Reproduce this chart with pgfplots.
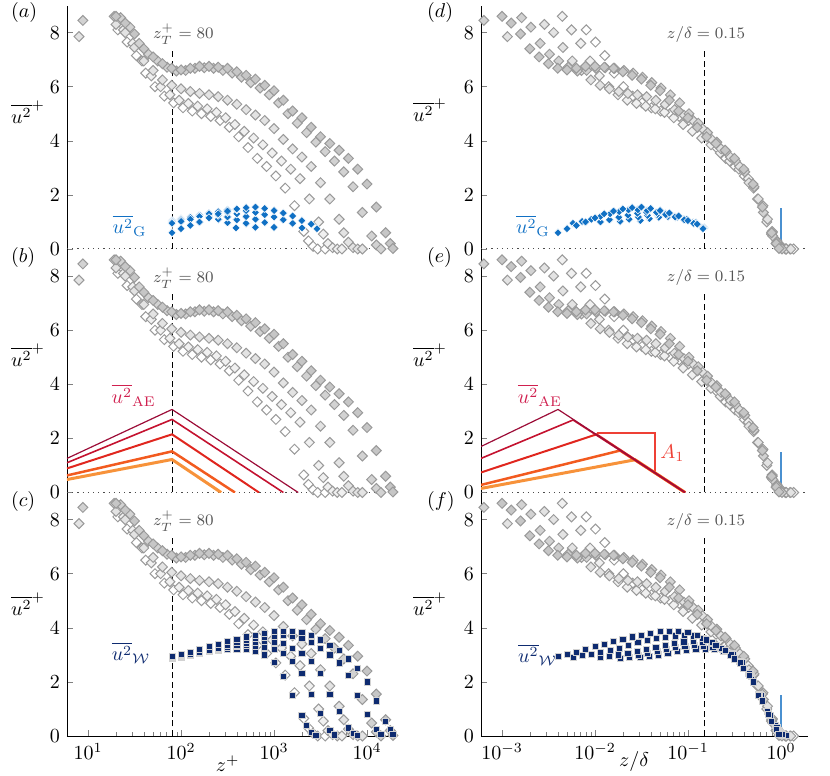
\documentclass[border=0pt]{standalone}
\usepackage{pgfplots}
\usepackage{pgfplotstable}
\pgfplotsset{compat=1.18}
\definecolor{edg}{HTML}{9A9A9A}
\definecolor{fa}{HTML}{C6C6C6}
\definecolor{fb}{HTML}{D2D2D2}
\definecolor{fc}{HTML}{E3E3E3}
\definecolor{fd}{HTML}{F0F0F0}
\definecolor{fe}{HTML}{FFFFFF}
\definecolor{gblue}{HTML}{1070C4}
\definecolor{wnavy}{HTML}{0E2B70}
\definecolor{aea}{HTML}{9C0D38}
\definecolor{aeb}{HTML}{C4122F}
\definecolor{aec}{HTML}{E0261E}
\definecolor{aed}{HTML}{F25A1F}
\definecolor{aee}{HTML}{F7923A}
\definecolor{aelab}{HTML}{D0204F}
\definecolor{aone}{HTML}{EE4035}
\definecolor{vblue}{HTML}{4A90D0}
\definecolor{txtgray}{HTML}{555555}

\pgfplotstableread{
z v
20.0 8.6
25.1 8.35
31.6 7.95
39.8 7.4
50.1 7.1
63.1 6.85
79.4 6.68
100 6.62
126 6.68
158 6.75
200 6.75
251 6.72
316 6.68
398 6.55
501 6.42
631 6.28
794 6.05
1000 5.85
1259 5.5
1585 5.1
1995 4.85
2512 4.5
3162 4.15
3981 3.9
5012 3.65
6310 3.35
7943 2.95
10000 2.4
12589 1.55
15849 0.6
17783 0.2
19000 0.02
}\Pone
\pgfplotstableread{
z v
8.8 8.45
22.4 8.55
28.2 8.2
35.5 7.6
44.7 7.2
56.2 6.95
70.8 6.72
89.1 6.58
112 6.6
141 6.68
178 6.7
224 6.68
282 6.6
355 6.5
447 6.35
562 6.15
708 5.95
891 5.7
1122 5.4
1413 5.0
1778 4.65
2239 4.3
2818 3.95
3548 3.6
4467 3.25
5623 2.85
7079 2.3
8913 1.35
11220 0.48
12589 0.15
14125 0.0
}\Ptwo
\pgfplotstableread{
z v
8.0 7.85
20.0 8.3
25.1 8.0
31.6 7.45
39.8 6.95
50.1 6.6
63.1 6.25
79.4 6.05
100 5.92
126 5.82
158 5.75
200 5.7
251 5.63
316 5.5
398 5.35
501 5.15
631 4.95
794 4.75
1000 4.45
1259 4.05
1585 3.7
1995 3.4
2512 3.05
3162 2.45
3981 1.85
5012 1.1
5623 0.6
6310 0.25
7079 0.05
7943 0.0
8913 0.0
}\Pthree
\pgfplotstableread{
z v
19.1 8.6
24.0 8.1
30.2 7.6
38.0 6.95
47.9 6.4
60.3 6.0
75.9 5.7
95.5 5.5
120 5.38
151 5.28
191 5.18
240 5.05
302 4.85
380 4.6
479 4.35
603 4.1
759 3.85
955 3.55
1202 3.25
1514 2.95
1905 2.6
2399 1.85
3020 1.0
3388 0.55
3802 0.2
4266 0.05
4786 0.0
5370 0.0
}\Pfour
\pgfplotstableread{
z v
20.9 8.1
26.3 7.65
33.1 7.15
41.7 6.5
52.5 6.0
66.1 5.65
83.2 5.4
105 5.22
132 5.1
166 5.0
209 4.9
263 4.75
331 4.5
417 4.15
525 3.75
661 3.35
832 3.05
1047 2.7
1318 2.25
1660 1.6
2089 0.65
2344 0.3
2630 0.1
2951 0.0
3548 0.0
}\Pfive

\pgfplotstableread{
z v
80 0.6
100 0.75
126 0.87
158 1.0
200 1.15
251 1.3
316 1.4
398 1.48
501 1.53
631 1.55
794 1.5
1000 1.42
1259 1.33
1585 1.22
1995 1.05
2512 0.92
2900 0.75
}\GA
\pgfplotstableread{
z v
80 0.95
100 1.02
126 1.1
158 1.2
200 1.3
251 1.38
316 1.44
398 1.45
501 1.42
631 1.35
794 1.27
1000 1.18
1259 1.08
1585 0.95
2000 0.78
}\GB
\pgfplotstableread{
z v
80 1.0
100 1.08
126 1.17
158 1.25
200 1.32
251 1.36
316 1.35
398 1.3
501 1.2
631 1.1
794 0.98
1000 0.8
}\GC
\pgfplotstableread{
z v
80 1.02
100 1.1
126 1.18
158 1.24
200 1.27
251 1.25
316 1.18
398 1.08
501 0.95
631 0.8
}\GD
\pgfplotstableread{
z v
80 1.05
100 1.12
126 1.17
158 1.2
200 1.18
251 1.1
316 0.97
390 0.78
}\GE

\pgfplotstableread{
z v
80 2.95
100 3.02
126 3.1
158 3.2
200 3.3
251 3.4
316 3.5
398 3.58
501 3.66
631 3.73
794 3.8
1000 3.86
1259 3.88
1585 3.88
1995 3.84
2512 3.72
3162 3.55
3981 3.35
5012 3.15
6310 2.85
7943 2.5
10000 2.0
12589 1.3
15849 0.55
17783 0.25
19000 0.05
}\WA
\pgfplotstableread{
z v
80 2.92
100 2.97
126 3.02
158 3.08
200 3.16
251 3.25
316 3.35
398 3.45
501 3.53
631 3.6
794 3.65
1000 3.7
1259 3.72
1585 3.7
1995 3.6
2512 3.45
3162 3.25
3981 3.0
5012 2.7
6310 2.25
7943 1.5
10000 0.8
12589 0.25
14125 0.05
}\WB
\pgfplotstableread{
z v
80 2.9
100 2.95
126 3.0
158 3.06
200 3.13
251 3.2
316 3.28
398 3.35
501 3.42
631 3.48
794 3.5
1000 3.48
1259 3.42
1585 3.25
1995 3.05
2512 2.75
3162 2.3
3981 1.55
5012 0.9
6310 0.3
7079 0.1
7943 0.02
}\WC
\pgfplotstableread{
z v
80 2.88
100 2.92
126 2.98
158 3.05
200 3.12
251 3.2
316 3.27
398 3.32
501 3.34
631 3.32
794 3.28
1000 3.2
1259 3.05
1585 2.75
1995 2.3
2512 1.55
3162 0.85
3981 0.22
4467 0.04
}\WD
\pgfplotstableread{
z v
80 2.9
100 2.95
126 3.0
158 3.06
200 3.12
251 3.18
316 3.22
398 3.22
501 3.2
631 3.12
794 3.0
1000 2.72
1259 2.2
1585 1.5
1995 0.75
2239 0.38
2512 0.12
2818 0.02
}\WE

\pgfplotsset{
  gm/.style={only marks, mark=square*, mark size=1.75pt,
    mark options={rotate=45, draw=edg, fill=#1, line width=0.5pt}},
  gb/.style={only marks, mark=square*, mark size=1.45pt,
    mark options={rotate=45, draw=white, fill=gblue, line width=0.3pt}},
  wm/.style={only marks, mark=square*, mark size=1.55pt,
    mark options={draw=gray!35, fill=wnavy, line width=0.4pt}},
  zl/.style={dotted, line width=0.6pt, black!70},
  dl/.style={black, line width=0.45pt, dash pattern=on 3pt off 1.8pt},
}

\begin{document}
\begin{tikzpicture}
\useasboundingbox (0,0) rectangle (415pt,388pt);

% ---------------- (a)
\begin{axis}[xmode=log, scale only axis, width=164pt, height=121.75pt,
  xmin=5.94, xmax=20000, ymin=0, ymax=9, ytick={0,2,4,6,8},
  axis x line=none, axis y line=left, axis line style={-},
  tick align=inside, major tick length=3pt, minor tick length=1.8pt,
  at={(33.5pt,263.5pt)}, anchor=south west]
\addplot[zl] coordinates {(5.94,0) (20000,0)};
\addplot[gm=fe] table {\Pfive};
\addplot[gm=fd] table {\Pfour};
\addplot[gm=fc] table {\Pthree};
\addplot[gm=fb] table {\Ptwo};
\addplot[gm=fa] table {\Pone};
\addplot[dl] coordinates {(80,0) (80,7.4)};
\addplot[gb] table {\GE};
\addplot[gb] table {\GD};
\addplot[gb] table {\GC};
\addplot[gb] table {\GB};
\addplot[gb] table {\GA};
\node[font=\footnotesize, text=txtgray] at (axis cs:106,7.93) {$z_T^+ = 80$};
\node[text=gblue] at (axis cs:28,0.85) {$\overline{u^2}_{\mathrm{G}}$};
\end{axis}

% ---------------- (b)
\begin{axis}[xmode=log, scale only axis, width=164pt, height=121.75pt,
  xmin=5.94, xmax=20000, ymin=0, ymax=9, ytick={0,2,4,6,8},
  axis x line=none, axis y line=left, axis line style={-},
  tick align=inside, major tick length=3pt, minor tick length=1.8pt,
  at={(33.5pt,141.75pt)}, anchor=south west]
\addplot[zl] coordinates {(5.94,0) (20000,0)};
\addplot[gm=fe] table {\Pfive};
\addplot[gm=fd] table {\Pfour};
\addplot[gm=fc] table {\Pthree};
\addplot[gm=fb] table {\Ptwo};
\addplot[gm=fa] table {\Pone};
\addplot[dl] coordinates {(80,0) (80,7.4)};
\addplot[aee, line width=1.5pt] coordinates {(5.94,0.48) (80,1.22) (270,0)};
\addplot[aed, line width=1.25pt] coordinates {(5.94,0.63) (80,1.52) (380,0)};
\addplot[aec, line width=1.0pt] coordinates {(5.94,0.89) (80,2.15) (690,0)};
\addplot[aeb, line width=0.8pt] coordinates {(5.94,1.1) (80,2.7) (1260,0)};
\addplot[aea, line width=0.6pt] coordinates {(5.94,1.26) (80,3.07) (1820,0)};
\node[font=\footnotesize, text=txtgray] at (axis cs:106,7.93) {$z_T^+ = 80$};
\node[text=aelab] at (axis cs:31,3.6) {$\overline{u^2}_{\mathrm{AE}}$};
\end{axis}

% ---------------- (c)
\begin{axis}[xmode=log, scale only axis, width=164pt, height=121.75pt,
  xmin=5.94, xmax=20000, ymin=0, ymax=9, ytick={0,2,4,6,8},
  xtick={10,100,1000,10000},
  axis x line=bottom, axis y line=left, axis line style={-},
  tick align=inside, major tick length=3pt, minor tick length=1.8pt,
  at={(33.5pt,20pt)}, anchor=south west,
  xlabel={$z^+$}, xlabel style={at={(axis description cs:0.49,0)}, anchor=center, yshift=-14pt}]
\addplot[gm=fe] table {\Pfive};
\addplot[gm=fd] table {\Pfour};
\addplot[gm=fc] table {\Pthree};
\addplot[gm=fb] table {\Ptwo};
\addplot[gm=fa] table {\Pone};
\addplot[dl] coordinates {(80,0) (80,7.4)};
\addplot[wm] table {\WE};
\addplot[wm] table {\WD};
\addplot[wm] table {\WC};
\addplot[wm] table {\WB};
\addplot[wm] table {\WA};
\node[font=\footnotesize, text=txtgray] at (axis cs:106,7.93) {$z_T^+ = 80$};
\node[text=wnavy] at (axis cs:29,3.07) {$\overline{u^2}_{\mathcal{W}}$};
\end{axis}

% ---------------- (d)
\begin{axis}[xmode=log, scale only axis, width=163.5pt, height=121.75pt,
  xmin=5.94e-4, xmax=1.95, ymin=0, ymax=9, ytick={0,2,4,6,8},
  axis x line=none, axis y line=left, axis line style={-},
  tick align=inside, major tick length=3pt, minor tick length=1.8pt,
  at={(240.5pt,263.5pt)}, anchor=south west]
\addplot[zl] coordinates {(5.94e-4,0) (1.95,0)};
\addplot[gm=fe] table[x expr=\thisrow{z}/2600, y=v] {\Pfive};
\addplot[gm=fd] table[x expr=\thisrow{z}/4300, y=v] {\Pfour};
\addplot[gm=fc] table[x expr=\thisrow{z}/7000, y=v] {\Pthree};
\addplot[gm=fb] table[x expr=\thisrow{z}/13800, y=v] {\Ptwo};
\addplot[gm=fa] table[x expr=\thisrow{z}/20000, y=v] {\Pone};
\addplot[dl] coordinates {(0.15,0) (0.15,7.4)};
\addplot[vblue, line width=0.6pt] coordinates {(1,0) (1,1.5)};
\addplot[gb] table[x expr=\thisrow{z}/2600, y=v] {\GE};
\addplot[gb] table[x expr=\thisrow{z}/4300, y=v] {\GD};
\addplot[gb] table[x expr=\thisrow{z}/7000, y=v] {\GC};
\addplot[gb] table[x expr=\thisrow{z}/13800, y=v] {\GB};
\addplot[gb] table[x expr=\thisrow{z}/20000, y=v] {\GA};
\node[font=\footnotesize, text=txtgray] at (axis cs:0.156,7.93) {$z/\delta = 0.15$};
\node[text=gblue] at (axis cs:2.15e-3,0.85) {$\overline{u^2}_{\mathrm{G}}$};
\end{axis}

% ---------------- (e)
\begin{axis}[xmode=log, scale only axis, width=163.5pt, height=121.75pt,
  xmin=5.94e-4, xmax=1.95, ymin=0, ymax=9, ytick={0,2,4,6,8},
  axis x line=none, axis y line=left, axis line style={-},
  tick align=inside, major tick length=3pt, minor tick length=1.8pt,
  at={(240.5pt,141.75pt)}, anchor=south west]
\addplot[zl] coordinates {(5.94e-4,0) (1.95,0)};
\addplot[gm=fe] table[x expr=\thisrow{z}/2600, y=v] {\Pfive};
\addplot[gm=fd] table[x expr=\thisrow{z}/4300, y=v] {\Pfour};
\addplot[gm=fc] table[x expr=\thisrow{z}/7000, y=v] {\Pthree};
\addplot[gm=fb] table[x expr=\thisrow{z}/13800, y=v] {\Ptwo};
\addplot[gm=fa] table[x expr=\thisrow{z}/20000, y=v] {\Pone};
\addplot[dl] coordinates {(0.15,0) (0.15,7.4)};
\addplot[vblue, line width=0.6pt] coordinates {(1,0) (1,1.5)};
\addplot[aone, line width=0.6pt] coordinates {(0.0104,2.2) (0.0442,2.2) (0.0442,0.75)};
\addplot[aee, line width=1.5pt] coordinates {(5.94e-4,0.15) (0.027,1.21) (0.093,0)};
\addplot[aed, line width=1.25pt] coordinates {(5.94e-4,0.28) (0.0186,1.55) (0.093,0)};
\addplot[aec, line width=1.0pt] coordinates {(5.94e-4,0.74) (0.0104,2.15) (0.093,0)};
\addplot[aeb, line width=0.8pt] coordinates {(5.94e-4,1.26) (0.0058,2.68) (0.093,0)};
\addplot[aea, line width=0.6pt] coordinates {(5.94e-4,1.7) (0.004,3.07) (0.093,0)};
\node[font=\footnotesize, text=txtgray] at (axis cs:0.156,7.93) {$z/\delta = 0.15$};
\node[text=aelab] at (axis cs:2.55e-3,3.6) {$\overline{u^2}_{\mathrm{AE}}$};
\node[text=aone] at (axis cs:0.068,1.45) {$A_1$};
\end{axis}

% ---------------- (f)
\begin{axis}[xmode=log, scale only axis, width=163.5pt, height=121.75pt,
  xmin=5.94e-4, xmax=1.95, ymin=0, ymax=9, ytick={0,2,4,6,8},
  xtick={0.001,0.01,0.1,1},
  axis x line=bottom, axis y line=left, axis line style={-},
  tick align=inside, major tick length=3pt, minor tick length=1.8pt,
  at={(240.5pt,20pt)}, anchor=south west,
  xlabel={$z/\delta$}, xlabel style={at={(axis description cs:0.468,0)}, anchor=center, yshift=-13pt}]
\addplot[gm=fe] table[x expr=\thisrow{z}/2600, y=v] {\Pfive};
\addplot[gm=fd] table[x expr=\thisrow{z}/4300, y=v] {\Pfour};
\addplot[gm=fc] table[x expr=\thisrow{z}/7000, y=v] {\Pthree};
\addplot[gm=fb] table[x expr=\thisrow{z}/13800, y=v] {\Ptwo};
\addplot[gm=fa] table[x expr=\thisrow{z}/20000, y=v] {\Pone};
\addplot[dl] coordinates {(0.15,0) (0.15,7.4)};
\addplot[wm] table[x expr=\thisrow{z}/2600, y=v] {\WE};
\addplot[wm] table[x expr=\thisrow{z}/4300, y=v] {\WD};
\addplot[wm] table[x expr=\thisrow{z}/7000, y=v] {\WC};
\addplot[wm] table[x expr=\thisrow{z}/13800, y=v] {\WB};
\addplot[wm] table[x expr=\thisrow{z}/20000, y=v] {\WA};
\addplot[vblue, line width=0.6pt] coordinates {(1,0) (1,1.5)};
\node[font=\footnotesize, text=txtgray] at (axis cs:0.156,7.93) {$z/\delta = 0.15$};
\node[text=wnavy] at (axis cs:2.4e-3,3.0) {$\overline{u^2}_{\mathcal{W}}$};
\end{axis}

% panel labels and y labels
\node[anchor=west] at (2pt,381.5pt) {$(a)$};
\node[anchor=west] at (2pt,259pt) {$(b)$};
\node[anchor=west] at (2pt,137pt) {$(c)$};
\node[anchor=west] at (210pt,381.5pt) {$(d)$};
\node[anchor=west] at (210pt,259pt) {$(e)$};
\node[anchor=west] at (210pt,137pt) {$(f)$};
\node at (14pt,332pt) {$\overline{u^2}^+$};
\node at (14pt,210.5pt) {$\overline{u^2}^+$};
\node at (14pt,86pt) {$\overline{u^2}^+$};
\node at (215pt,333pt) {$\overline{u^2}^+$};
\node at (215pt,210.5pt) {$\overline{u^2}^+$};
\node at (215pt,86pt) {$\overline{u^2}^+$};
\end{tikzpicture}
\end{document}
